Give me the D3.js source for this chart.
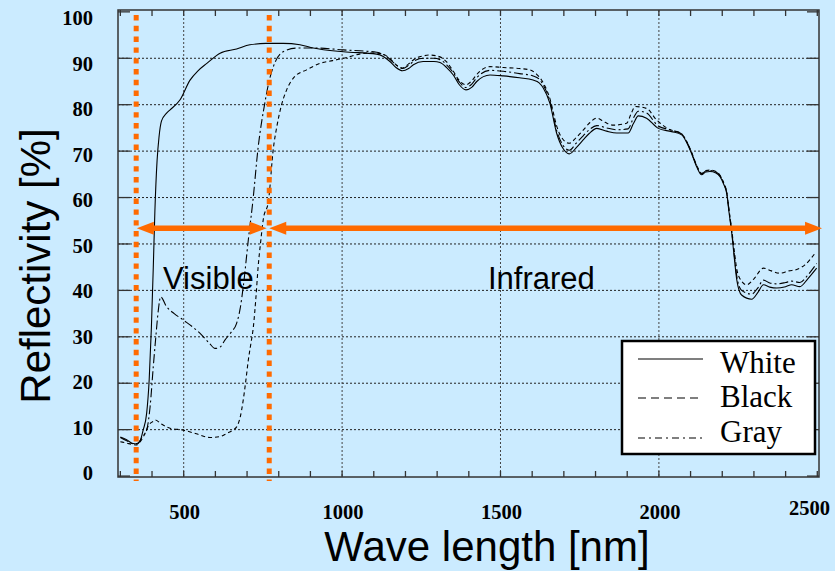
<!DOCTYPE html>
<html>
<head>
<meta charset="utf-8">
<script src="https://cdn.jsdelivr.net/npm/d3@7"></script>
<style>
  html, body { margin: 0; padding: 0; background: #cbebff; }
  svg { display: block; }
</style>
</head>
<body>
<svg id="chart" width="835" height="571"></svg>
<script>
// reflectivity curves [wavelength nm, reflectivity %]
const whiteData = [[300,8.4],[320,7.8],[340,7.0],[352,6.9],[362,7.5],[372,9.9],[383,13.5],[391,20.7],[398,32],[404,45],[409,57],[416,68],[422,73],[430,76.5],[446,78.2],[457,78.9],[488,81],[520,85.3],[545,87.3],[573,88.9],[615,91.1],[667,92],[709,92.9],[760,93.2],[814,93.2],[867,92.9],[909,92.2],[1004,91.4],[1109,90.9],[1130,90.4],[1151,89.3],[1170,88.0],[1191,87.3],[1210,87.8],[1225,88.6],[1256,89.3],[1290,89.3],[1309,89.1],[1330,88.0],[1351,86.4],[1370,84.3],[1391,83.2],[1410,83.8],[1425,85.0],[1467,86.4],[1509,86.2],[1560,85.8],[1603,85.3],[1622,84.7],[1635,83.6],[1656,80.3],[1677,73.9],[1697,70.6],[1717,69.4],[1740,70.8],[1761,72.4],[1780,73.8],[1804,74.9],[1835,74.3],[1867,73.9],[1903,73.9],[1920,76],[1935,77.6],[1961,77.1],[1998,74.9],[2040,74.2],[2072,73.5],[2088,71.8],[2103,69.5],[2120,66.5],[2135,64.9],[2148,65.5],[2161,65.6],[2180,65.3],[2193,64.5],[2205,62.8],[2214,60.9],[2222,56.5],[2230,52.3],[2238,47],[2246,42.2],[2261,39.0],[2293,38.1],[2312,39.5],[2330,41.2],[2350,40.7],[2372,40.5],[2400,40.8],[2419,41.2],[2445,40.8],[2470,42.5],[2498,44.8]];

const blackData = [[300,7.4],[320,7.1],[340,6.8],[352,6.7],[365,7.6],[378,9.2],[390,11],[404,11.8],[410,12.1],[430,11.2],[457,10.3],[499,9.9],[540,9.1],[583,8.3],[615,8.5],[636,9.2],[655,9.9],[667,10.6],[678,12.6],[688,16.4],[696,20.5],[704,25],[712,28.5],[720,32.2],[728,38.5],[735,45.1],[743,50.5],[751,55.2],[768,59.5],[783,70.6],[794,75.3],[809,80],[825,83.2],[851,86.1],[888,87.5],[930,88.9],[970,89.5],[1004,90.0],[1078,91.1],[1110,91.1],[1130,90.9],[1151,89.9],[1170,88.6],[1191,87.9],[1210,88.8],[1230,89.9],[1256,90.5],[1277,90.7],[1309,90.3],[1330,89.2],[1351,87.2],[1370,85.2],[1391,84.3],[1410,85.2],[1425,86.5],[1467,88.2],[1509,88.0],[1560,87.8],[1593,87.5],[1615,86.5],[1635,84.7],[1656,81.3],[1677,75.5],[1688,73.5],[1717,71.7],[1740,73.0],[1761,74.5],[1780,76.0],[1804,77.1],[1830,76.2],[1856,75.6],[1898,76.0],[1912,78],[1925,79.6],[1961,79.2],[1993,76.7],[2030,74.8],[2072,73.7],[2088,72],[2103,69.8],[2120,66.8],[2135,65.2],[2148,65.8],[2161,65.9],[2180,65.6],[2193,64.8],[2205,63.1],[2214,61.2],[2222,57],[2230,53],[2238,48.5],[2246,44.5],[2261,42],[2277,41.2],[2300,42.5],[2330,44.8],[2355,44.2],[2382,43.7],[2410,44.2],[2435,44.5],[2461,45.5],[2493,48.0]];

const grayData = [[300,8.3],[320,7.6],[340,7.0],[352,7.0],[370,8.5],[383,9.9],[394,15],[404,23.6],[412,30],[420,35.8],[427,38.6],[446,36.5],[470,35],[499,33.6],[551,30.8],[580,28.7],[599,27.5],[615,27.8],[630,29.3],[650,31],[667,32.9],[678,36],[688,40.8],[704,50.9],[718,59],[735,70.8],[757,80.7],[768,84.6],[783,88.2],[814,91.4],[857,92.2],[920,92.2],[1004,91.8],[1109,91.3],[1130,90.8],[1151,89.8],[1170,88.6],[1191,87.8],[1210,88.5],[1225,89.3],[1256,90],[1290,90],[1309,89.7],[1330,88.6],[1351,86.9],[1370,84.9],[1391,83.7],[1410,84.5],[1425,85.8],[1467,87.4],[1509,87.2],[1560,86.7],[1603,86.2],[1622,85.5],[1635,84.2],[1656,80.8],[1677,74.5],[1697,71.3],[1717,70.2],[1740,71.8],[1761,73.3],[1780,74.6],[1804,75.5],[1835,75],[1867,74.6],[1903,74.8],[1920,77.2],[1935,78.6],[1961,78.2],[1998,75.4],[2040,74.5],[2072,73.7],[2088,72],[2103,69.7],[2120,66.7],[2135,65.1],[2148,65.7],[2161,65.8],[2180,65.5],[2193,64.7],[2205,63],[2214,61.1],[2222,56.8],[2230,52.7],[2238,47.6],[2246,43],[2261,40],[2293,39.2],[2312,40.5],[2330,42.2],[2350,41.6],[2372,41.4],[2400,41.7],[2419,42],[2445,41.7],[2470,43.3],[2498,45.8]];

const series = [
  { name: 'White', data: whiteData, dash: null, legendDash: null },
  { name: 'Black', data: blackData, dash: '4,3', legendDash: '8,5' },
  { name: 'Gray',  data: grayData,  dash: '9,3,2,3', legendDash: '7,4,2,4' }
];

const yTicks = [0, 10, 20, 30, 40, 50, 60, 70, 80, 90, 100];
const xTicks = [500, 1000, 1500, 2000, 2500];
const xMinorTicks = d3.range(300, 2501, 100);
const bandEdges = [350, 770];            // dotted orange markers
const visibleArrow = [352, 762];
const infraredArrow = [770, 2515];
const arrowLevel = 53.4;

const svg = d3.select('#chart');
const orange = '#ff6a00';
const frame = { left: 118, right: 819, top: 10, bottom: 477 };

const x = d3.scaleLinear().domain([292.6, 2505.4]).range([frame.left, frame.right]);
const y = d3.scaleLinear().domain([-0.2, 100.4]).range([frame.bottom, frame.top]);

// grid
const grid = svg.append('g');
grid.selectAll('line.h').data(yTicks.filter(d => d > 0 && d < 100)).enter().append('line')
  .attr('x1', frame.left).attr('x2', frame.right)
  .attr('y1', d => y(d)).attr('y2', d => y(d))
  .attr('stroke', '#222').attr('stroke-width', 1).attr('stroke-dasharray', '2,2');
grid.selectAll('line.v').data(xTicks.filter(d => d < 2500)).enter().append('line')
  .attr('x1', d => x(d)).attr('x2', d => x(d))
  .attr('y1', frame.top).attr('y2', frame.bottom)
  .attr('stroke', '#444').attr('stroke-width', 1).attr('stroke-dasharray', '2,2');

// ticks
const ticks = svg.append('g').attr('stroke', '#333').attr('stroke-width', 1.3);
xMinorTicks.forEach(t => {
  ticks.append('line').attr('x1', x(t)).attr('x2', x(t)).attr('y1', frame.top).attr('y2', frame.top + 6);
  ticks.append('line').attr('x1', x(t)).attr('x2', x(t)).attr('y1', frame.bottom).attr('y2', frame.bottom - 6);
});
yTicks.forEach(t => {
  ticks.append('line').attr('x1', frame.left).attr('x2', frame.left + 12).attr('y1', y(t)).attr('y2', y(t));
  ticks.append('line').attr('x1', frame.right).attr('x2', frame.right - 12).attr('y1', y(t)).attr('y2', y(t));
});

// frame
svg.append('rect')
  .attr('x', frame.left).attr('y', frame.top)
  .attr('width', frame.right - frame.left).attr('height', frame.bottom - frame.top)
  .attr('fill', 'none').attr('stroke', '#333').attr('stroke-width', 1.5);

// curves
const line = d3.line().x(d => x(d[0])).y(d => y(d[1])).curve(d3.curveMonotoneX);
series.forEach(s => {
  svg.append('path')
    .attr('d', line(s.data))
    .attr('fill', 'none')
    .attr('stroke', '#000')
    .attr('stroke-width', 1.1)
    .attr('stroke-dasharray', s.dash);
});

// orange dotted band markers
svg.selectAll('line.band').data(bandEdges).enter().append('line')
  .attr('x1', d => x(d)).attr('x2', d => x(d))
  .attr('y1', 15).attr('y2', 481)
  .attr('stroke', orange).attr('stroke-width', 5)
  .attr('stroke-dasharray', '5.4,5.4');

// double-headed arrows
function arrow(a, b) {
  const x0 = x(a), x1 = x(b), yy = y(arrowLevel);
  const hl = 17, hw = 6.5;
  svg.append('line').attr('x1', x0 + hl - 2).attr('x2', x1 - hl + 2)
    .attr('y1', yy).attr('y2', yy)
    .attr('stroke', orange).attr('stroke-width', 5.5);
  svg.append('path')
    .attr('d', `M${x0},${yy}L${x0 + hl},${yy - hw}L${x0 + hl},${yy + hw}Z`)
    .attr('fill', orange);
  svg.append('path')
    .attr('d', `M${x1},${yy}L${x1 - hl},${yy - hw}L${x1 - hl},${yy + hw}Z`)
    .attr('fill', orange);
}
arrow(visibleArrow[0], visibleArrow[1]);
arrow(infraredArrow[0], infraredArrow[1]);

// region labels
svg.append('text').attr('x', 163).attr('y', 289)
  .attr('font-family', 'Liberation Sans, Arial, sans-serif').attr('font-size', 31)
  .text('Visible');
svg.append('text').attr('x', 488).attr('y', 289)
  .attr('font-family', 'Liberation Sans, Arial, sans-serif').attr('font-size', 31)
  .text('Infrared');

// tick labels
const yLab = d3.scaleLinear().domain([0, 100]).range([473, 18]);
svg.selectAll('text.yl').data(yTicks).enter().append('text')
  .attr('x', 93).attr('y', d => yLab(d)).attr('dy', '0.35em')
  .attr('text-anchor', 'end')
  .attr('font-family', 'Liberation Serif, Times New Roman, serif')
  .attr('font-weight', 'bold').attr('font-size', 20.5)
  .text(d => d);
svg.selectAll('text.xl').data(xTicks).enter().append('text')
  .attr('x', d => d === 2500 ? 830 : x(d) + 1)
  .attr('y', d => d === 2500 ? 515 : 519)
  .attr('text-anchor', d => d === 2500 ? 'end' : 'middle')
  .attr('font-family', 'Liberation Serif, Times New Roman, serif')
  .attr('font-weight', 'bold').attr('font-size', 20.5)
  .text(d => d);

// axis titles
svg.append('text').attr('x', 487).attr('y', 561)
  .attr('text-anchor', 'middle')
  .attr('font-family', 'Liberation Sans, Arial, sans-serif').attr('font-size', 42)
  .text('Wave length [nm]');
svg.append('text')
  .attr('transform', 'translate(50,266) rotate(-90)')
  .attr('text-anchor', 'middle')
  .attr('font-family', 'Liberation Sans, Arial, sans-serif').attr('font-size', 42)
  .text('Reflectivity [%]');

// legend
const legend = svg.append('g');
legend.append('rect').attr('x', 622).attr('y', 341).attr('width', 193).attr('height', 113)
  .attr('fill', '#fff').attr('stroke', '#000').attr('stroke-width', 2.5);
const legendLineY = [359, 398, 438];
const legendTextY = [373, 407, 442];
series.forEach((s, i) => {
  legend.append('line').attr('x1', 638).attr('x2', 703)
    .attr('y1', legendLineY[i]).attr('y2', legendLineY[i])
    .attr('stroke', '#000').attr('stroke-width', 1.2)
    .attr('stroke-dasharray', s.legendDash);
  legend.append('text').attr('x', 720).attr('y', legendTextY[i])
    .attr('font-family', 'Liberation Serif, Times New Roman, serif').attr('font-size', 31)
    .text(s.name);
});
</script>
</body>
</html>
